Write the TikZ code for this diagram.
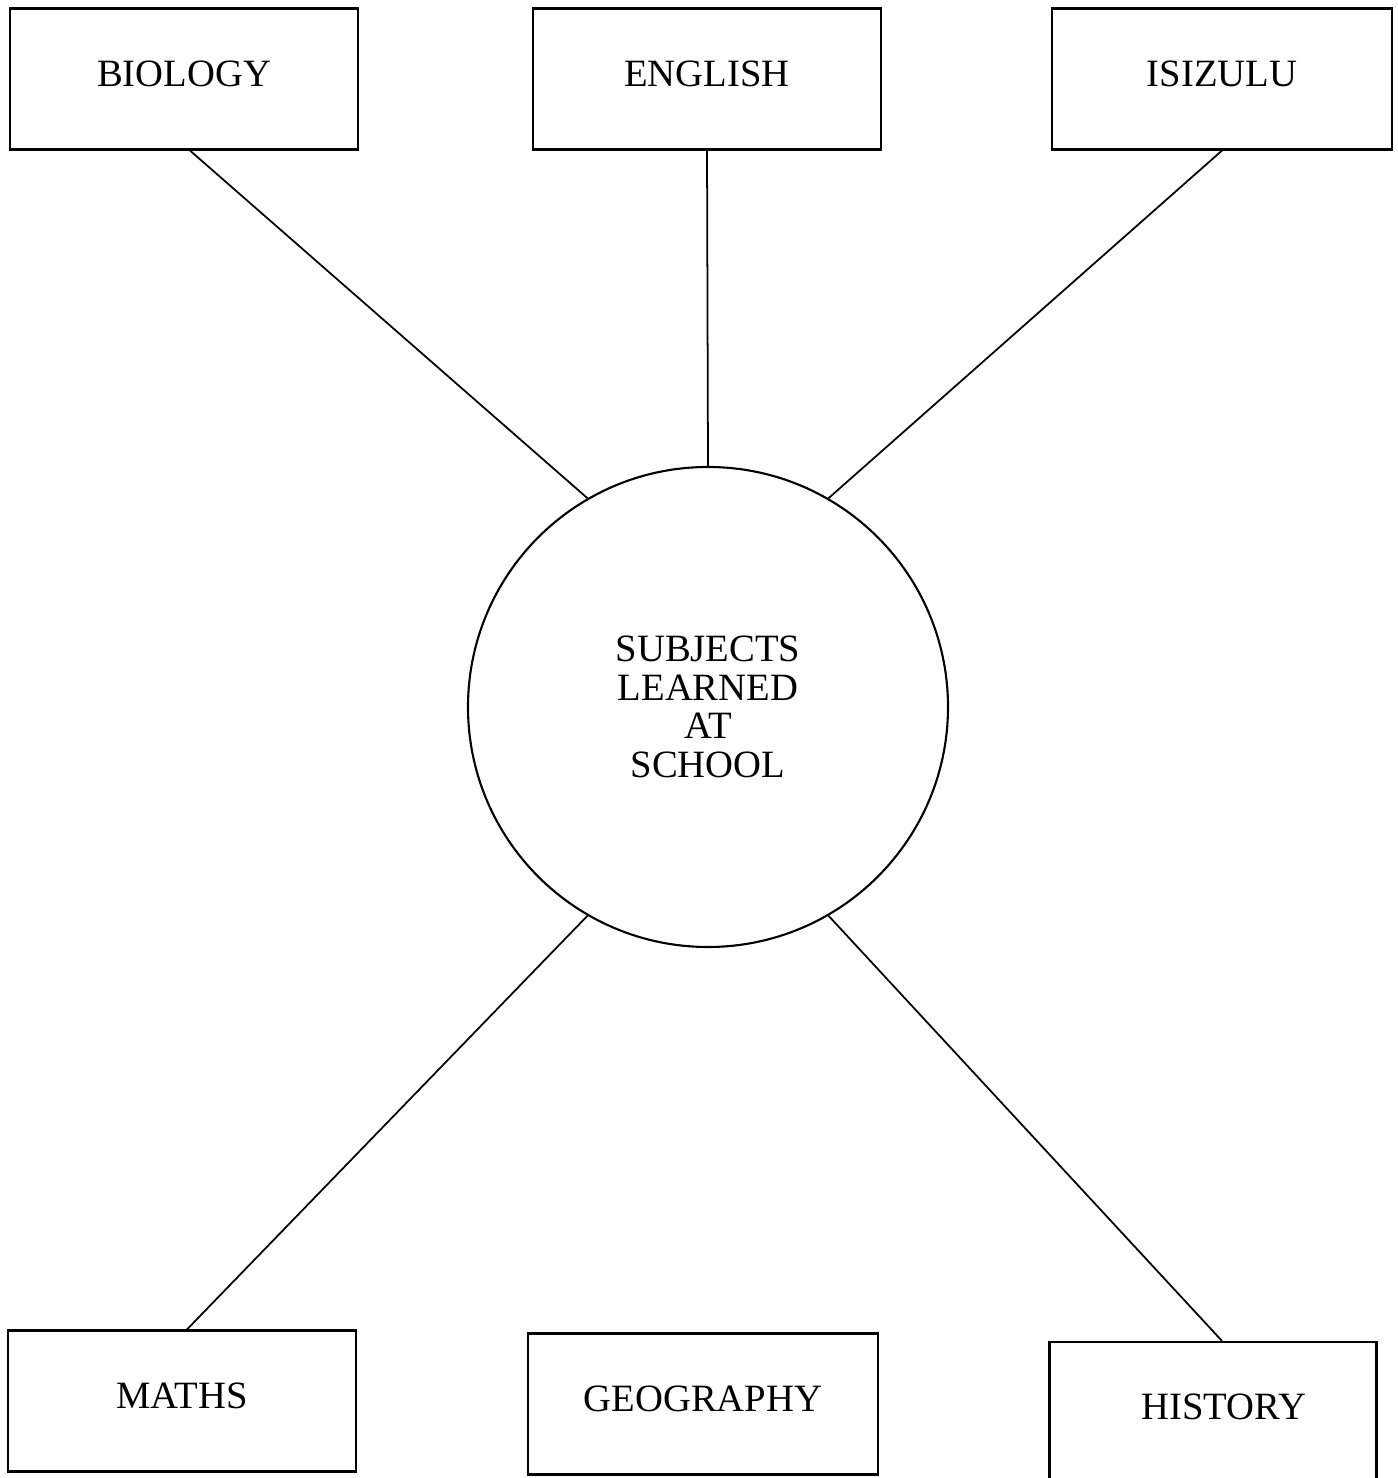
\documentclass[tikz,border=0pt]{standalone}
\usepackage{fontspec}
\setmainfont{Liberation Serif}
\usetikzlibrary{calc}

\begin{document}
\begin{tikzpicture}[
  subject/.style={draw=black, line width=.6pt, rectangle, minimum width=3.48cm, minimum height=1.41cm, inner sep=0pt, text depth=3pt, font=\fontsize{11}{11}\selectfont},
  hub/.style={draw=black, line width=.6pt, circle, minimum size=4.8cm, inner sep=0pt, align=center, font=\fontsize{11}{11}\selectfont},
  link/.style={black, line width=.5pt}]
\useasboundingbox (0,0) rectangle (13.98,14.78);
% subject boxes
\node[subject] (bio) at (1.84,13.99) {BIOLOGY};
\node[subject] (eng) at (7.07,13.99) {ENGLISH};
\node[subject, minimum width=3.40cm] (zulu) at (12.22,13.99) {ISIZULU};
\node[subject] (maths) at (1.82,0.77) {MATHS};
\node[subject, minimum width=3.50cm] (geo) at (7.03,0.74) {GEOGRAPHY};
\node[subject, minimum width=3.27cm, minimum height=1.40cm] (hist) at (12.13,0.66) {\hspace*{.22cm}HISTORY};
% centre
\node[hub] (school) at (7.08,7.71) {SUBJECTS\\LEARNED\\AT\\SCHOOL};
\draw[link] (bio.south) ++(.06,0) -- (school.120);
\draw[link] (eng.south) -- (school.90);
\draw[link] (zulu.south) -- (school.60);
\draw[link] (maths.north) ++(.05,0) -- (school.-120);
\draw[link] (hist.north) ++(.09,0) -- (school.-60);
\end{tikzpicture}
\end{document}
